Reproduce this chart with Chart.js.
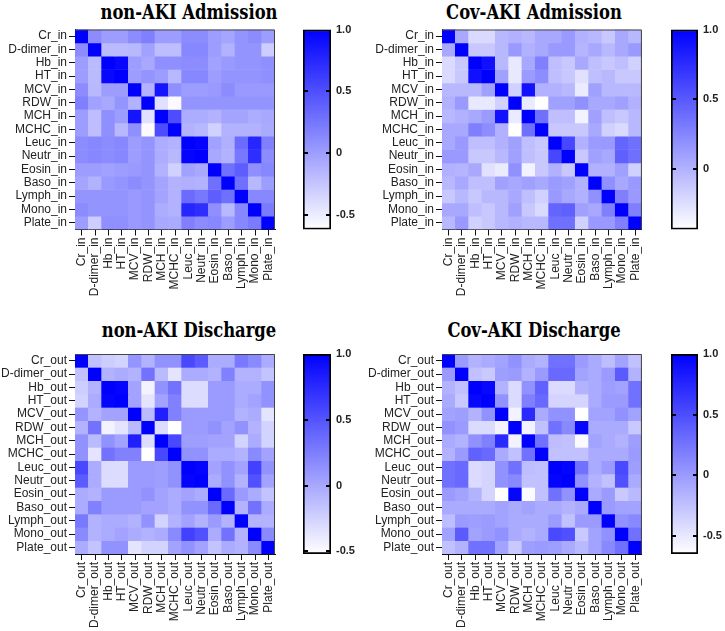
<!DOCTYPE html>
<html><head><meta charset="utf-8">
<script src="https://cdn.jsdelivr.net/npm/chart.js@4.4.1/dist/chart.umd.min.js"></script>
<style>
html,body{margin:0;padding:0;background:#fff;width:725px;height:631px;overflow:hidden;position:relative}
canvas{position:absolute}
.ttl{position:absolute;font-family:'DejaVu Serif Condensed','DejaVu Serif',serif;font-weight:bold;font-size:20px;line-height:24px;color:#000;white-space:nowrap;transform:translateX(-50%) scaleX(0.91)}
</style></head><body>
<div class="ttl" style="left:189px;top:0px">non-AKI Admission</div>
<div class="ttl" style="left:534px;top:0px">Cov-AKI Admission</div>
<div class="ttl" style="left:189px;top:318px">non-AKI Discharge</div>
<div class="ttl" style="left:534px;top:318px">Cov-AKI Discharge</div>
<canvas id="h0" width="290" height="320" style="left:0;top:0"></canvas>
<canvas id="h1" width="290" height="320" style="left:362px;top:0"></canvas>
<canvas id="h2" width="290" height="321" style="left:0;top:310px"></canvas>
<canvas id="h3" width="290" height="321" style="left:362px;top:310px"></canvas>
<canvas id="c0" width="72" height="260" style="left:290px;top:0"></canvas>
<canvas id="c1" width="70" height="260" style="left:655px;top:0"></canvas>
<canvas id="c2" width="72" height="260" style="left:290px;top:310px"></canvas>
<canvas id="c3" width="70" height="260" style="left:655px;top:310px"></canvas>
<script>
// ---- categories ----
const inLabels = ['Cr_in','D-dimer_in','Hb_in','HT_in','MCV_in','RDW_in','MCH_in','MCHC_in','Leuc_in','Neutr_in','Eosin_in','Baso_in','Lymph_in','Mono_in','Plate_in'];
const outLabels = ['Cr_out','D-dimer_out','Hb_out','HT_out','MCV_out','RDW_out','MCH_out','MCHC_out','Leuc_out','Neutr_out','Eosin_out','Baso_out','Lymph_out','Mono_out','Plate_out'];

// ---- correlation values (upper triangle, row i = columns i..14) ----
const nonAkiAdmission = [
 [1, 0.11, 0.00, 0.00, 0.11, 0.19, 0.00, 0.00, 0.11, 0.11, 0.00, -0.05, 0.06, 0.11, 0.00],
 [1, -0.18, -0.18, -0.17, -0.02, -0.20, -0.20, 0.14, 0.14, 0.00, -0.13, 0.06, 0.06, -0.30],
 [1, 0.95, 0.00, -0.07, 0.09, 0.09, 0.11, 0.11, -0.02, 0.03, 0.06, 0.06, 0.09],
 [1, 0.00, 0.06, 0.00, -0.17, 0.14, 0.14, 0.00, 0.06, 0.06, 0.06, 0.09],
 [1, -0.13, 0.87, 0.09, 0.00, 0.00, 0.03, 0.11, 0.03, 0.03, 0.03],
 [1, -0.43, -0.59, 0.06, 0.06, 0.06, 0.06, 0.06, 0.06, 0.06],
 [1, 0.51, -0.10, -0.10, -0.13, -0.04, -0.04, -0.10, -0.07],
 [1, -0.13, -0.17, -0.33, -0.13, -0.13, -0.13, -0.08],
 [1, 0.97, -0.02, -0.12, 0.32, 0.76, 0.19],
 [1, -0.07, -0.13, 0.24, 0.71, 0.11],
 [1, 0.29, 0.40, 0.09, 0.14],
 [1, 0.29, -0.17, 0.00],
 [1, 0.14, 0.14],
 [1, 0.22],
 [1]
];
const covAkiAdmission = [
 [1, 0.06, -0.22, -0.22, -0.03, 0.01, -0.03, 0.06, 0.06, 0.14, 0.01, -0.03, -0.12, 0.06, -0.03],
 [1, -0.12, -0.12, -0.03, 0.14, 0.01, 0.06, 0.14, 0.14, -0.01, 0.06, -0.03, 0.06, 0.14],
 [1, 0.91, -0.03, -0.30, 0.06, 0.29, -0.07, -0.12, 0.06, -0.07, -0.12, -0.07, -0.17],
 [1, 0.10, -0.30, 0.13, 0.21, -0.07, -0.12, -0.26, -0.07, -0.03, -0.12, -0.12],
 [1, -0.17, 0.90, 0.01, 0.01, -0.03, -0.32, 0.10, -0.03, -0.03, -0.03],
 [1, -0.32, -0.43, 0.10, 0.10, 0.19, 0.06, 0.06, 0.10, 0.01],
 [1, 0.37, -0.07, -0.07, -0.36, 0.10, -0.07, -0.12, -0.03],
 [1, -0.12, -0.12, -0.12, 0.06, -0.17, -0.22, -0.03],
 [1, 0.60, 0.01, 0.13, 0.14, 0.44, 0.37],
 [1, -0.12, 0.10, 0.06, 0.46, 0.37],
 [1, 0.01, 0.01, 0.10, -0.17],
 [1, 0.19, 0.06, 0.14],
 [1, 0.29, 0.14],
 [1, 0.29],
 [1]
];
const nonAkiDischarge = [
 [1, -0.15, -0.22, -0.26, 0.11, -0.06, 0.13, 0.13, 0.57, 0.46, -0.02, -0.02, 0.28, 0.18, -0.02],
 [1, -0.06, -0.02, -0.06, 0.32, -0.11, -0.36, -0.02, -0.02, -0.06, 0.23, -0.06, -0.06, -0.16],
 [1, 0.97, 0.03, -0.45, 0.13, 0.32, -0.31, -0.31, 0.08, 0.08, -0.02, -0.02, 0.13],
 [1, 0.03, -0.36, 0.03, 0.23, -0.31, -0.31, 0.08, 0.08, -0.02, 0.03, 0.13],
 [1, -0.11, 0.81, 0.23, 0.08, 0.08, 0.08, 0.08, -0.06, -0.02, -0.36],
 [1, -0.31, -0.52, 0.08, 0.08, 0.13, 0.03, 0.13, -0.06, -0.26],
 [1, 0.57, 0.06, 0.06, 0.03, 0.03, -0.26, -0.02, -0.26],
 [1, 0.13, 0.13, -0.02, -0.02, -0.06, 0.18, 0.03],
 [1, 0.97, 0.03, 0.13, 0.03, 0.61, 0.13],
 [1, -0.02, 0.13, -0.06, 0.52, 0.03],
 [1, 0.37, 0.08, -0.02, -0.16],
 [1, -0.06, 0.32, -0.02],
 [1, -0.06, -0.06],
 [1, 0.18],
 [1]
];
const covAkiDischarge = [
 [1, 0.00, -0.15, -0.10, -0.05, 0.06, -0.10, -0.15, 0.27, 0.27, 0.00, -0.10, -0.22, -0.05, -0.25],
 [1, -0.25, -0.30, -0.02, 0.00, -0.15, 0.00, 0.32, 0.32, -0.05, -0.10, 0.00, 0.42, -0.15],
 [1, 0.95, -0.15, -0.42, 0.06, 0.37, -0.42, -0.42, -0.15, -0.10, -0.02, -0.05, 0.27],
 [1, 0.06, -0.42, 0.17, 0.32, -0.37, -0.37, -0.37, -0.10, 0.00, 0.00, 0.27],
 [1, -0.57, 0.73, -0.10, 0.06, 0.06, -0.65, -0.05, -0.05, 0.06, -0.05],
 [1, -0.57, -0.25, 0.27, 0.12, 0.96, -0.10, -0.10, -0.10, -0.30],
 [1, 0.27, -0.22, -0.25, -0.62, -0.05, -0.10, -0.15, -0.02],
 [1, -0.25, -0.25, -0.25, -0.10, -0.10, -0.10, 0.00],
 [1, 0.97, 0.27, -0.10, 0.00, 0.53, -0.02],
 [1, 0.06, -0.15, -0.25, 0.48, -0.10],
 [1, -0.10, 0.00, -0.30, -0.20],
 [1, 0.00, -0.05, -0.05],
 [1, 0.06, 0.12],
 [1, 0.27],
 [1]
];

// ---- colour-scale ranges and tick labels ----
const scaleMin = [-0.62, -0.43, -0.52, -0.65];
const scaleTicks = [[-0.5, 0, 0.5, 1], [0, 0.5, 1], [-0.5, 0, 0.5, 1], [-0.5, 0, 0.5, 1]];
const tickText = {'-0.5': '-0.5', '0': '0', '0.5': '0.5', '1': '1.0'};

const labelFont = {family: "'Liberation Sans', Arial, sans-serif", size: 12};

function cellColor(v, vmin) {
  const t = Math.max(0, Math.min(1, (v - vmin) / (1 - vmin)));
  const c = Math.round(255 * (1 - t));
  return 'rgb(' + c + ',' + c + ',255)';
}

const framePlugin = {
  id: 'frame',
  afterDraw(chart) {
    const a = chart.chartArea, ctx = chart.ctx;
    ctx.save();
    ctx.strokeStyle = '#444';
    ctx.lineWidth = 1;
    ctx.beginPath();
    ctx.moveTo(a.left, a.top + 0.5);
    ctx.lineTo(a.right - 0.5, a.top + 0.5);
    ctx.lineTo(a.right - 0.5, a.bottom);
    ctx.stroke();
    ctx.restore();
  }
};

function heatmap(id, labels, upper, vmin, box) {
  const n = labels.length;
  const m = [];
  for (let i = 0; i < n; i++) {
    m.push([]);
    for (let j = 0; j < n; j++) m[i][j] = j >= i ? upper[i][j - i] : upper[j][i - j];
  }
  const datasets = m.map((row, i) => ({
    data: labels.map(() => [i, i + 1]),
    backgroundColor: row.map(v => cellColor(v, vmin)),
    borderWidth: 0, barPercentage: 1, categoryPercentage: 1, grouped: false
  }));
  new Chart(document.getElementById(id), {
    type: 'bar',
    data: {labels: labels, datasets: datasets},
    options: {
      responsive: false, animation: false, events: [],
      layout: {padding: {left: 0, top: box.top, right: box.right, bottom: 0}},
      plugins: {legend: {display: false}, tooltip: {enabled: false}},
      scales: {
        x: {
          offset: true,
          grid: {offset: false, drawOnChartArea: false, tickLength: 6, color: '#111', lineWidth: 1},
          border: {color: '#111', width: 1},
          ticks: {autoSkip: false, maxRotation: 90, minRotation: 90, padding: 2, color: '#222', font: labelFont},
          afterFit: s => { s.height = box.xh; }
        },
        y: {
          type: 'linear', min: 0, max: n, reverse: true,
          grid: {drawOnChartArea: false, tickLength: 6, color: '#111', lineWidth: 1},
          border: {color: '#111', width: 1},
          afterBuildTicks: s => { s.ticks = labels.map((_, i) => ({value: i + 0.5})); },
          ticks: {autoSkip: false, padding: 2, color: '#222', font: labelFont, callback: v => labels[Math.floor(v)]},
          afterFit: s => { s.width = box.yw; }
        }
      }
    },
    plugins: [framePlugin]
  });
}

const cbTickPlugin = {
  id: 'cbticks',
  afterDatasetsDraw(chart) {
    const a = chart.chartArea, ctx = chart.ctx, sc = chart.scales.y;
    ctx.save();
    ctx.strokeStyle = '#000';
    ctx.lineWidth = 2;
    sc.ticks.forEach(t => {
      if (t.value >= 1) return;
      const y = Math.round(sc.getPixelForValue(t.value));
      ctx.beginPath();
      ctx.moveTo(a.left, y); ctx.lineTo(a.left + 5, y);
      ctx.moveTo(a.right - 5, y); ctx.lineTo(a.right, y);
      ctx.stroke();
    });
    ctx.restore();
  }
};

function colorbar(id, vmin, ticks, box) {
  new Chart(document.getElementById(id), {
    type: 'bar',
    data: {labels: [''], datasets: [{
      data: [[vmin, 1]],
      backgroundColor: c => {
        const a = c.chart.chartArea;
        if (!a) return '#ffffff';
        const g = c.chart.ctx.createLinearGradient(0, a.bottom, 0, a.top);
        g.addColorStop(0, '#ffffff');
        g.addColorStop(1, '#0000ff');
        return g;
      },
      borderColor: '#000', borderWidth: 2, borderSkipped: false,
      barPercentage: 1, categoryPercentage: 1
    }]},
    options: {
      responsive: false, animation: false, events: [],
      layout: {padding: {left: box.left, top: box.top, bottom: box.bottom, right: 0}},
      plugins: {legend: {display: false}, tooltip: {enabled: false}},
      scales: {
        x: {display: false},
        y: {
          position: 'right', min: vmin, max: 1,
          grid: {display: false, drawTicks: false}, border: {display: false},
          afterBuildTicks: s => { s.ticks = ticks.map(v => ({value: v})); },
          ticks: {padding: 5, color: '#222', font: {family: "'Liberation Sans', Arial, sans-serif", size: 11, weight: 'bold'},
                  callback: v => tickText[String(v)]},
          afterFit: s => { s.width = box.yw; }
        }
      }
    },
    plugins: [cbTickPlugin]
  });
}

heatmap('h0', inLabels, nonAkiAdmission, scaleMin[0], {top: 29.5, right: 15, yw: 75, xh: 90.5});
heatmap('h1', inLabels, covAkiAdmission, scaleMin[1], {top: 29.5, right: 10, yw: 80, xh: 90.5});
heatmap('h2', outLabels, nonAkiDischarge, scaleMin[2], {top: 44, right: 15, yw: 75, xh: 77});
heatmap('h3', outLabels, covAkiDischarge, scaleMin[3], {top: 44, right: 10, yw: 80, xh: 77});
colorbar('c0', scaleMin[0], scaleTicks[0], {left: 13, top: 29.5, bottom: 30.5, yw: 31});
colorbar('c1', scaleMin[1], scaleTicks[1], {left: 16, top: 29.5, bottom: 30.5, yw: 27});
colorbar('c2', scaleMin[2], scaleTicks[2], {left: 13, top: 44, bottom: 16, yw: 31});
colorbar('c3', scaleMin[3], scaleTicks[3], {left: 16, top: 44, bottom: 16, yw: 27});
</script>
</body></html>
